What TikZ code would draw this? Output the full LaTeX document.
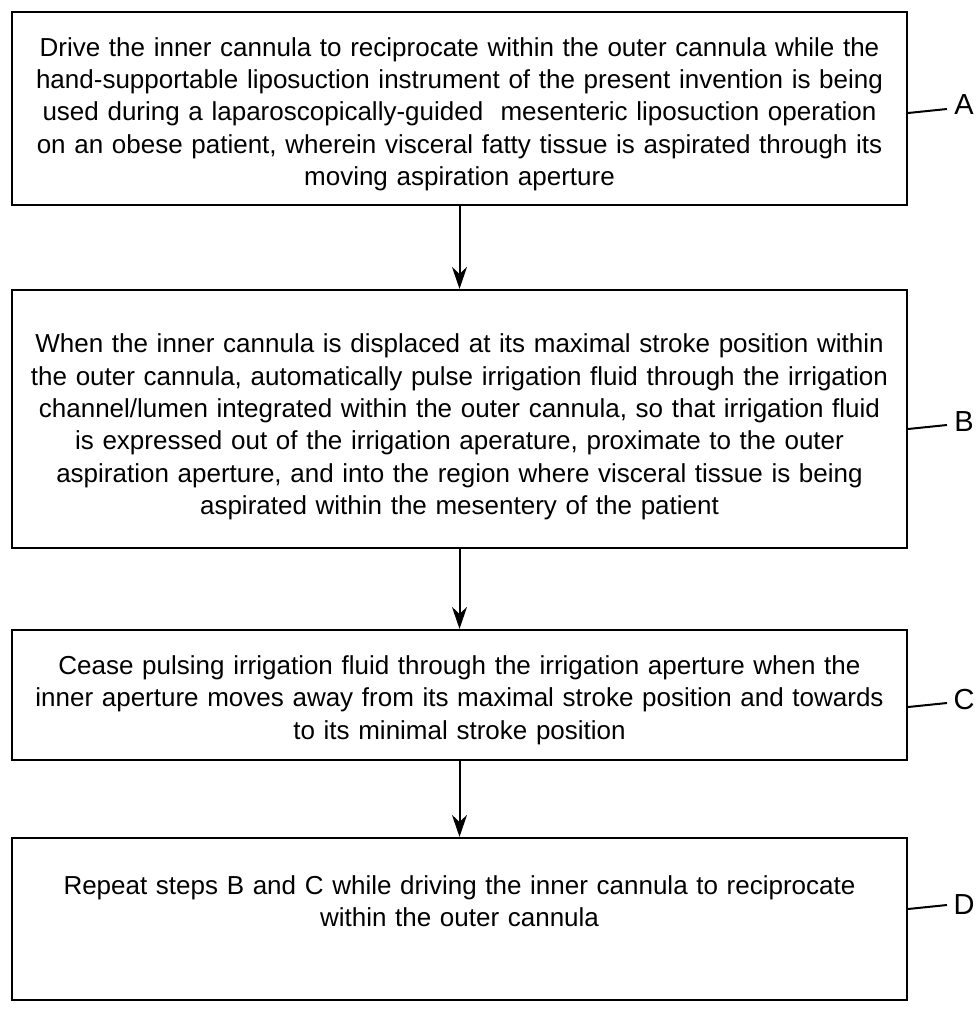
\documentclass[tikz,border=0pt]{standalone}
\usepackage{fontspec}
\setmainfont{Liberation Sans}
\usetikzlibrary{arrows.meta, positioning}

\begin{document}
\begin{tikzpicture}[x=1pt, y=-1pt,
    stepbox/.style={draw, line width=2.2pt, rectangle, minimum width=895pt, inner sep=0pt},
    steptext/.style={align=center, text width=890pt, inner sep=0pt, font=\fontsize{26}{32.3}\selectfont},
    steplabel/.style={font=\fontsize{29}{29}\selectfont, inner sep=0pt},
    flow/.style={line width=2pt, -{Stealth[length=22pt, width=15pt]}},
    leader/.style={line width=2pt}]
      \useasboundingbox (0,0) rectangle (979,1011);

      % Box A
      \node[stepbox, minimum height=193pt] (A) at (459.5,108.5) {};
      \node[steptext] (textA) at (459.5,114) {Drive the inner cannula to reciprocate within the outer cannula while the\\
        hand-supportable liposuction instrument of the present invention is being\\
        used during a laparoscopically-guided\ \ mesenteric liposuction operation\\
        on an obese patient, wherein visceral fatty tissue is aspirated through its\\
        moving aspiration aperture};

      % Box B
      \node[stepbox, minimum height=258pt] (B) at (459.5,419) {};
      \node[steptext] (textB) at (459.5,427) {When the inner cannula is displaced at its maximal stroke position within\\
        the outer cannula, automatically pulse irrigation fluid through the irrigation\\
        channel/lumen integrated within the outer cannula, so that irrigation fluid\\
        is expressed out of the irrigation aperature, proximate to the outer\\
        aspiration aperture, and into the region where visceral tissue is being\\
        aspirated within the mesentery of the patient};

      % Box C
      \node[stepbox, minimum height=130pt] (C) at (459.5,695) {};
      \node[steptext] (textC) at (459.5,700) {Cease pulsing irrigation fluid through the irrigation aperture when the\\
        inner aperture moves away from its maximal stroke position and towards\\
        to its minimal stroke position};

      % Box D
      \node[stepbox, minimum height=162pt] (D) at (459.5,919) {};
      \node[steptext] (textD) at (459.5,901) {Repeat steps B and C while driving the inner cannula to reciprocate\\
        within the outer cannula};

      % Flow arrows
      \draw[flow] (A.south) -- (B.north);
      \draw[flow] (B.south) -- (C.north);
      \draw[flow] (C.south) -- (D.north);

      % Reference letters with leader lines
      \node[steplabel] (labA) at (964,105) {A};
      \node[steplabel] (labB) at (964,422) {B};
      \node[steplabel] (labC) at (964,700) {C};
      \node[steplabel] (labD) at (964,905) {D};
      \coordinate (tipA) at (947,109);
      \coordinate (tipB) at (947,425);
      \coordinate (tipC) at (947,703);
      \coordinate (tipD) at (947,905);
      \draw[leader] (A.east |- 0,113) -- (tipA);
      \draw[leader] (B.east |- 0,429) -- (tipB);
      \draw[leader] (C.east |- 0,707) -- (tipC);
      \draw[leader] (D.east |- 0,909) -- (tipD);
\end{tikzpicture}
\end{document}
